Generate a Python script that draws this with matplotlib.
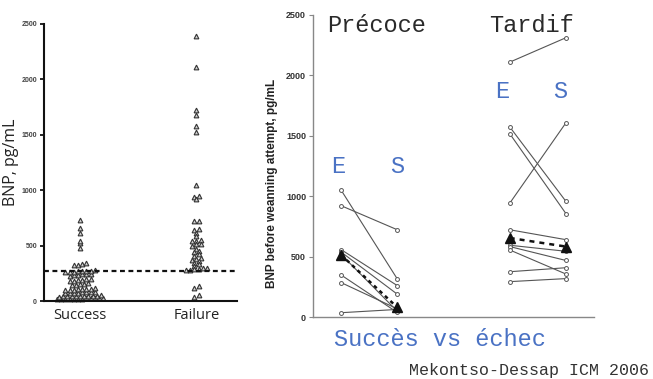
import numpy as np
import matplotlib
matplotlib.use("Agg")
import matplotlib.pyplot as plt

# BNP values (pg/mL) per patient, weaning success vs failure
success_bnp = [15, 17, 18, 19, 20, 21, 22, 23, 24, 25, 26, 28,
               40, 41, 42, 43, 44, 45, 46, 47, 48, 49, 50,
               72, 74, 75, 76, 78, 79, 80, 82,
               98, 100, 102, 105, 108, 110, 112, 115,
               145, 148, 150, 155, 160,
               180, 185, 190, 192, 195, 200,
               230, 235, 238, 240, 245, 248,
               260, 262, 265, 268, 270, 272, 275, 278,
               325, 328, 335, 345,
               476, 521, 545, 617, 657, 732]
failure_bnp = [2389, 2108, 1720, 1678, 1581, 1521, 1048, 952, 943, 919,
               726, 722, 654, 642, 617, 590, 550, 545, 540, 515,
               510, 500, 470, 455, 440, 420, 410, 390, 380, 370,
               360, 345, 330, 320, 300, 295, 290, 285, 280, 278,
               139, 117, 57, 39]
groups = ["Success", "Failure"]
cutoff = 275

# paired measurements: E = before the trial, S = after
early_e = [1052, 923, 560, 540, 520, 350, 287, 38]
early_s = [317, 724, 262, 191, 50, 40, 70, 65]
late_e = [2110, 1575, 1519, 943, 724, 596, 585, 557, 377, 295]
late_s = [2312, 959, 858, 1608, 642, 546, 470, 358, 410, 320]
early_mean = [516, 82]
late_mean = [656, 585]


def row_offsets(values, tol=22, spacing=4.2):
    """Group close values into rows and centre each row sideways (offsets in pixels)."""
    values = np.asarray(values, dtype=float)
    order = np.argsort(values)
    offsets = np.zeros(len(values))
    row = [order[0]]
    rows = []
    for i in order[1:]:
        if values[i] - values[row[0]] > tol:
            rows.append(row)
            row = [i]
        else:
            row.append(i)
    rows.append(row)
    for r in rows:
        n = len(r)
        for k, i in enumerate(r):
            offsets[i] = (k - (n - 1) / 2) * spacing
    return offsets


W, H = 653, 379
fig = plt.figure(figsize=(W / 100, H / 100), dpi=100)
tickfont = "Liberation Sans"

# left panel: column scatter
ax1 = fig.add_axes([44 / W, 1 - 301 / H, 193 / W, 277 / H])
xlim1 = (0.69, 2.348)
px_x = 193 / (xlim1[1] - xlim1[0])
for pos, vals in zip([1, 2], [success_bnp, failure_bnp]):
    off = row_offsets(vals)
    ax1.plot(pos + off / px_x, vals, ls="none", marker="^", ms=3.4,
             mfc="#d0d0d0", mec="#333333", mew=0.8, clip_on=False)
ax1.axhline(cutoff, color="#111111", lw=1.6, ls=(0, (2.2, 1.6)))
ax1.set_xlim(*xlim1)
ax1.set_ylim(0, 2500)
ax1.set_xticks([1, 2])
ax1.set_xticklabels(groups, fontsize=10.5, family="Open Sans", color="#222222")
ax1.tick_params(axis="x", length=0, pad=5)
ax1.set_yticks(range(0, 2501, 500))
ax1.tick_params(axis="y", length=3, width=1.2, labelsize=5, pad=2,
                labelcolor="#444444")
for lab in ax1.get_yticklabels():
    lab.set_fontweight("bold")
    lab.set_family(tickfont)
ax1.set_ylabel("BNP, pg/mL", fontsize=11.5, family="Open Sans", color="#222222")
ax1.yaxis.set_label_coords(-0.13, 0.5)
for side in ["top", "right"]:
    ax1.spines[side].set_visible(False)
for side in ["left", "bottom"]:
    ax1.spines[side].set_linewidth(1.5)
    ax1.spines[side].set_color("#111111")

# right panel: paired lines
ax2 = fig.add_axes([313 / W, 1 - 317.3 / H, 281 / W, 302.3 / H])
xe1, xs1, xe2, xs2 = 0.5, 1.5, 3.5, 4.5
for e, s in zip(early_e, early_s):
    ax2.plot([xe1, xs1], [e, s], color="#555555", lw=0.8, marker="o", ms=2.8,
             mfc="white", mec="#555555", mew=0.7)
for e, s in zip(late_e, late_s):
    ax2.plot([xe2, xs2], [e, s], color="#555555", lw=0.8, marker="o", ms=2.8,
             mfc="white", mec="#555555", mew=0.7)
ax2.plot([xe1, xs1], early_mean, color="#111111", lw=1.8, ls=(0, (1.5, 1.5)),
         marker="^", ms=7, mfc="#111111", mec="#111111")
ax2.plot([xe2, xs2], late_mean, color="#111111", lw=1.8, ls=(0, (2, 2)),
         marker="^", ms=7, mfc="#111111", mec="#111111")
ax2.set_xlim(0, 5)
ax2.set_ylim(0, 2500)
ax2.set_xticks([])
ax2.set_yticks(range(0, 2501, 500))
ax2.tick_params(axis="y", length=3, width=0.8, color="#888888", labelsize=6.5,
                pad=2, labelcolor="#333333")
for lab in ax2.get_yticklabels():
    lab.set_fontweight("bold")
    lab.set_family(tickfont)
ax2.set_ylabel("BNP before weanning attempt, pg/mL", fontsize=8.5,
               fontweight="bold", family=tickfont, color="#222222")
ax2.yaxis.set_label_coords(-0.125, 0.443)
for side in ["top", "right"]:
    ax2.spines[side].set_visible(False)
for side in ["left", "bottom"]:
    ax2.spines[side].set_linewidth(1.0)
    ax2.spines[side].set_color("#888888")

blue = "#4a72c4"
mono = "Liberation Mono"
ax2.text(0.445, 1250, "E", color=blue, fontsize=17, family=mono, ha="center", va="center")
ax2.text(1.49, 1250, "S", color=blue, fontsize=17, family=mono, ha="center", va="center")
ax2.text(3.36, 1870, "E", color=blue, fontsize=17, family=mono, ha="center", va="center")
ax2.text(4.39, 1870, "S", color=blue, fontsize=17, family=mono, ha="center", va="center")

fig.text(327 / W, 1 - 25 / H, "Précoce", fontsize=17, family=mono, color="#2a2a2a",
         ha="left", va="center")
fig.text(488.7 / W, 1 - 25 / H, "Tardif", fontsize=17, family=mono, color="#2a2a2a",
         ha="left", va="center")
fig.text(334 / W, 1 - 340 / H, "Succès vs échec", fontsize=17, family=mono, color=blue,
         ha="left", va="center")
fig.text(409 / W, 1 - 370 / H, "Mekontso-Dessap ICM 2006", fontsize=12, family=mono,
         color="#333333", ha="left", va="center")

fig.savefig("out.png", dpi=100)
